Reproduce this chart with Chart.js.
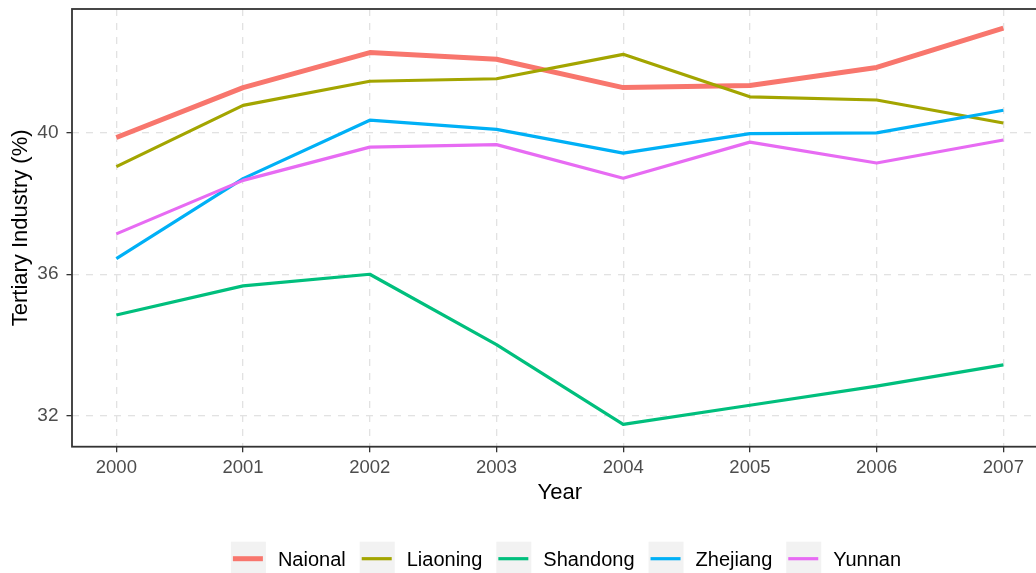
<!DOCTYPE html>
<html><head><meta charset="utf-8">
<script src="https://cdn.jsdelivr.net/npm/chart.js@4/dist/chart.umd.min.js"></script>
<style>
html,body{margin:0;padding:0;background:#fff;overflow:hidden}
#wrap{width:1036px;height:573px;overflow:hidden;position:relative;background:#fff}
canvas{display:block}
</style>
</head><body>
<div id="wrap"><canvas id="c" width="1060" height="573"></canvas></div>
<script>
// ---- data ----
const years = [2000, 2001, 2002, 2003, 2004, 2005, 2006, 2007];
const national = [39.86, 41.27, 42.26, 42.07, 41.27, 41.33, 41.84, 42.95];
const liaoning = [39.04, 40.77, 41.45, 41.52, 42.21, 41.01, 40.92, 40.27];
const shandong = [34.85, 35.67, 36.00, 34.01, 31.76, 32.30, 32.84, 33.44];
const zhejiang = [36.44, 38.70, 40.35, 40.09, 39.42, 39.97, 39.99, 40.63];
const yunnan   = [37.14, 38.65, 39.59, 39.66, 38.71, 39.73, 39.14, 39.79];
const seriesNames = ['Naional', 'Liaoning', 'Shandong', 'Zhejiang', 'Yunnan'];
const seriesValues = [national, liaoning, shandong, zhejiang, yunnan];
const seriesColors = ['#F8766D', '#A3A500', '#00BF7D', '#00B0F6', '#E76BF3'];
const seriesWidths = [5, 3.2, 3.2, 3.2, 3.2];
const yTicks = [32, 36, 40];
const xTitle = 'Year';
const yTitle = 'Tertiary Industry (%)';

const FONT = '"Liberation Sans", Arial, sans-serif';

const datasets = seriesNames.map((name, i) => ({
  label: name,
  data: years.map((yr, j) => ({ x: yr, y: seriesValues[i][j] })),
  borderColor: seriesColors[i],
  backgroundColor: seriesColors[i],
  borderWidth: seriesWidths[i],
  pointRadius: 0,
  pointHoverRadius: 0,
  tension: 0,
  fill: false,
  borderJoinStyle: 'round',
  borderCapStyle: 'butt',
  order: seriesNames.length - i
}));

const panelBorder = {
  id: 'panelBorder',
  afterDatasetsDraw(chart) {
    const { ctx, chartArea: a } = chart;
    ctx.save();
    ctx.strokeStyle = '#333333';
    ctx.lineWidth = 1.8;
    ctx.strokeRect(a.left, a.top, a.right - a.left, a.bottom - a.top);
    ctx.restore();
  }
};

const ggLegend = {
  id: 'ggLegend',
  afterDraw(chart) {
    const ctx = chart.ctx;
    ctx.save();
    ctx.font = '20px ' + FONT;
    const keyW = 35, keyH = 35, gapKT = 12, gapTK = 14;
    const dsets = chart.data.datasets;
    const widths = dsets.map(d => ctx.measureText(d.label).width);
    let total = 0;
    widths.forEach((w, i) => { total += keyW + gapKT + w + (i < widths.length - 1 ? gapTK : 0); });
    let x = 566 - total / 2;
    const top = 541.7;
    dsets.forEach((d, i) => {
      ctx.fillStyle = '#F2F2F2';
      ctx.fillRect(x, top, keyW, keyH);
      ctx.strokeStyle = d.borderColor;
      ctx.lineWidth = d.borderWidth;
      ctx.lineCap = 'butt';
      ctx.beginPath();
      ctx.moveTo(x + 2, top + 17);
      ctx.lineTo(x + keyW - 3, top + 17);
      ctx.stroke();
      ctx.fillStyle = '#000000';
      ctx.textBaseline = 'middle';
      ctx.textAlign = 'left';
      ctx.fillText(d.label, x + keyW + gapKT, top + 19);
      x += keyW + gapKT + widths[i] + gapTK;
    });
    ctx.restore();
  }
};

const gridCommon = {
  color: '#E2E2E2',
  lineWidth: 1.3,
  tickLength: 5.5,
  tickColor: '#333333',
  tickWidth: 1.3,
  tickBorderDash: [],
  drawTicks: true
};

new Chart(document.getElementById('c'), {
  type: 'line',
  data: { datasets },
  options: {
    responsive: false,
    animation: false,
    devicePixelRatio: 1,
    layout: { padding: { top: 9, right: 12.3, left: 0, bottom: 0 } },
    plugins: { legend: { display: false }, tooltip: { enabled: false } },
    scales: {
      x: {
        type: 'linear',
        min: 1999.65,
        max: 2007.35,
        afterBuildTicks: s => { s.ticks = years.map(v => ({ value: v })); },
        afterFit: s => { s.height = 126.3; s.paddingLeft = 0; s.paddingRight = 0; },
        ticks: {
          callback: v => String(v),
          color: '#4D4D4D',
          font: { family: FONT, size: 18.5 },
          padding: 5,
          autoSkip: false,
          maxRotation: 0
        },
        grid: gridCommon,
        border: { display: false, dash: [7, 7] },
        title: {
          display: true, text: xTitle, color: '#000000',
          font: { family: FONT, size: 22 },
          padding: { top: 0, bottom: 66.5 }
        }
      },
      y: {
        type: 'linear',
        min: 31.13,
        max: 43.49,
        afterBuildTicks: s => { s.ticks = yTicks.map(v => ({ value: v })); },
        afterFit: s => { s.width = 72; s.paddingTop = 0; s.paddingBottom = 0; },
        ticks: {
          color: '#4D4D4D',
          font: { family: FONT, size: 19 },
          padding: 8
        },
        grid: gridCommon,
        border: { display: false, dash: [7, 7] },
        title: {
          display: true, text: yTitle, color: '#000000',
          font: { family: FONT, size: 22 },
          padding: { top: 8.2, bottom: 0 }
        }
      }
    }
  },
  plugins: [panelBorder, ggLegend]
});
</script>
</body></html>
